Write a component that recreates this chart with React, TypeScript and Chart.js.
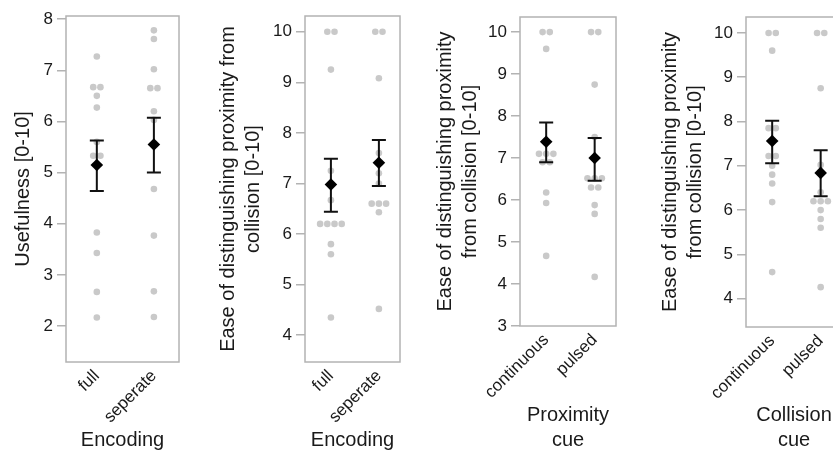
import React, { useEffect, useRef } from "react";
import { Chart, registerables } from "chart.js";

Chart.register(...registerables);

const FONT = "'Liberation Sans', Arial, Helvetica, sans-serif";
const TEXT = "#1a1a1a";
const FRAME = "#b3b3b3";
const DOT = "#c9c9c9";
const H = 455;

// ---- categories ----
const encodingCats = ["full", "seperate"];
const cueCats = ["continuous", "pulsed"];

// ---- Panel 1: Usefulness by Encoding ----
const usefulFull = [7.27, 6.67, 6.67, 6.5, 6.27, 5.6, 5.33, 5.33, 3.83, 3.43, 2.67, 2.17];
const usefulSeperate = [7.78, 7.61, 7.02, 6.65, 6.65, 6.2, 6.03, 4.68, 3.77, 2.68, 2.18];
const usefulMean = [5.15, 5.55];
const usefulLow = [4.64, 5.0];
const usefulHigh = [5.63, 6.07];
const usefulTicks = [2, 3, 4, 5, 6, 7, 8];

// ---- Panel 2: Ease of distinguishing by Encoding ----
const easeFull = [10, 10, 9.25, 7.25, 6.67, 6.2, 6.2, 6.2, 6.2, 5.8, 5.6, 4.35];
const easeSeperate = [10, 10, 9.08, 7.6, 7.2, 7.0, 6.6, 6.6, 6.6, 6.43, 4.52];
const easeMean = [6.98, 7.41];
const easeLow = [6.44, 6.95];
const easeHigh = [7.49, 7.86];
const easeTicks = [4, 5, 6, 7, 8, 9, 10];

// ---- Panel 3: by Proximity cue ----
const proxContinuous = [10, 10, 9.6, 7.1, 7.1, 7.1, 6.9, 6.9, 6.18, 5.93, 4.67];
const proxPulsed = [10, 10, 8.75, 7.5, 6.52, 6.52, 6.52, 6.3, 6.3, 5.88, 5.67, 4.17];
const proxMean = [7.39, 7.0];
const proxLow = [6.9, 6.46];
const proxHigh = [7.85, 7.48];
const proxTicks = [3, 4, 5, 6, 7, 8, 9, 10];

// ---- Panel 4: by Collision cue ----
const collContinuous = [10, 10, 9.6, 7.85, 7.85, 7.22, 7.22, 7.0, 6.8, 6.6, 6.18, 4.6];
const collPulsed = [10, 10, 8.75, 7.02, 6.4, 6.2, 6.2, 6.2, 6.0, 5.8, 5.6, 4.26];
const collMean = [7.56, 6.84];
const collLow = [7.06, 6.31];
const collHigh = [8.02, 7.35];
const collTicks = [4, 5, 6, 7, 8, 9, 10];

type Panel = {
  cats: string[];
  groups: number[][];
  mean: number[];
  low: number[];
  high: number[];
  yTicks: number[];
  yMin: number;
  yMax: number;
  yTitle: string | string[];
  xTitle: string | string[];
  canvasLeft: number;
  canvasWidth: number;
  box: { l: number; r: number; t: number; b: number };
  yTitleX: number;
};

const panels: Panel[] = [
  {
    cats: encodingCats,
    groups: [usefulFull, usefulSeperate],
    mean: usefulMean,
    low: usefulLow,
    high: usefulHigh,
    yTicks: usefulTicks,
    yMin: 1.3,
    yMax: 8.06,
    yTitle: "Usefulness [0-10]",
    xTitle: "Encoding",
    canvasLeft: 0,
    canvasWidth: 190,
    box: { l: 66, r: 179, t: 16, b: 362 },
    yTitleX: 23,
  },
  {
    cats: encodingCats,
    groups: [easeFull, easeSeperate],
    mean: easeMean,
    low: easeLow,
    high: easeHigh,
    yTicks: easeTicks,
    yMin: 3.47,
    yMax: 10.31,
    yTitle: ["Ease of distinguishing proximity from", "collision [0-10]"],
    xTitle: "Encoding",
    canvasLeft: 198,
    canvasWidth: 212,
    box: { l: 305, r: 400, t: 16, b: 362 },
    yTitleX: 228,
  },
  {
    cats: cueCats,
    groups: [proxContinuous, proxPulsed],
    mean: proxMean,
    low: proxLow,
    high: proxHigh,
    yTicks: proxTicks,
    yMin: 3,
    yMax: 10.36,
    yTitle: ["Ease of distinguishing proximity", "from collision [0-10]"],
    xTitle: ["Proximity", "cue"],
    canvasLeft: 418,
    canvasWidth: 207,
    box: { l: 520, r: 616, t: 17, b: 326 },
    yTitleX: 445,
  },
  {
    cats: cueCats,
    groups: [collContinuous, collPulsed],
    mean: collMean,
    low: collLow,
    high: collHigh,
    yTicks: collTicks,
    yMin: 3.36,
    yMax: 10.36,
    yTitle: ["Ease of distinguishing proximity", "from collision [0-10]"],
    xTitle: ["Collision", "cue"],
    canvasLeft: 640,
    canvasWidth: 210,
    box: { l: 746, r: 842, t: 17, b: 327 },
    yTitleX: 670,
  },
];

const X_MIN = -0.54;
const X_MAX = 1.44;
const DOT_SPACING = 7.2;
const TITLE_LH = 25;

function PanelChart({ p }: { p: Panel }) {
  const ref = useRef<HTMLCanvasElement>(null);
  useEffect(() => {
    const dots = p.groups.flatMap((g, i) => g.map((v) => ({ x: i, y: v })));

    const panelPlugin = {
      id: "panelDecor",
      afterDatasetsUpdate(chart: any) {
        // beeswarm: spread tied values side by side
        const meta = chart.getDatasetMeta(1);
        const data = chart.data.datasets[1].data as { x: number; y: number }[];
        const counts: Record<string, number> = {};
        data.forEach((d) => {
          const k = d.x + "|" + d.y.toFixed(2);
          counts[k] = (counts[k] || 0) + 1;
        });
        const seen: Record<string, number> = {};
        data.forEach((d, j) => {
          const k = d.x + "|" + d.y.toFixed(2);
          const r = seen[k] || 0;
          seen[k] = r + 1;
          const el = meta.data[j];
          if (el) el.x += (r - (counts[k] - 1) / 2) * DOT_SPACING;
        });
      },
      beforeDatasetsDraw(chart: any) {
        const { ctx, chartArea } = chart;
        ctx.save();
        ctx.strokeStyle = FRAME;
        ctx.lineWidth = 1.5;
        ctx.strokeRect(chartArea.left, chartArea.top, chartArea.right - chartArea.left, chartArea.bottom - chartArea.top);
        ctx.restore();
      },
      afterDatasetDraw(chart: any, args: any) {
        if (args.index !== 1) return;
        const { ctx } = chart;
        const xs = chart.scales.x;
        const ys = chart.scales.y;
        ctx.save();
        ctx.strokeStyle = "#111";
        ctx.lineWidth = 2;
        p.mean.forEach((_, i) => {
          const x = xs.getPixelForValue(i);
          const y1 = ys.getPixelForValue(p.low[i]);
          const y2 = ys.getPixelForValue(p.high[i]);
          ctx.beginPath();
          ctx.moveTo(x, y1);
          ctx.lineTo(x, y2);
          ctx.moveTo(x - 7, y1);
          ctx.lineTo(x + 7, y1);
          ctx.moveTo(x - 7, y2);
          ctx.lineTo(x + 7, y2);
          ctx.stroke();
        });
        ctx.restore();
      },
    };

    const chart = new Chart(ref.current as HTMLCanvasElement, {
      type: "scatter",
      data: {
        datasets: [
          {
            data: p.mean.map((m, i) => ({ x: i, y: m })),
            pointStyle: "rectRot",
            pointRadius: 6.3,
            backgroundColor: "#000",
            borderWidth: 0,
          },
          {
            data: dots,
            pointStyle: "circle",
            pointRadius: 3.3,
            backgroundColor: DOT,
            borderWidth: 0,
          },
        ],
      },
      options: {
        responsive: false,
        animation: false,
        events: [],
        layout: {
          padding: {
            left: 0,
            top: p.box.t,
            right: p.canvasWidth - (p.box.r - p.canvasLeft),
            bottom: 0,
          },
        },
        plugins: { legend: { display: false }, tooltip: { enabled: false } },
        scales: {
          x: {
            type: "linear",
            min: X_MIN,
            max: X_MAX,
            afterBuildTicks: (s: any) => {
              s.ticks = p.cats.map((_, i) => ({ value: i }));
            },
            afterFit: (s: any) => {
              s.height = H - p.box.b;
            },
            ticks: {
              callback: (v: any) => p.cats[v] ?? "",
              minRotation: 45,
              maxRotation: 45,
              autoSkip: false,
              padding: 4,
              color: TEXT,
              font: { family: FONT, size: 17 },
            },
            grid: { display: false, drawTicks: false },
            border: { display: false },
            title: {
              display: true,
              text: p.xTitle,
              color: TEXT,
              font: { family: FONT, size: 20, lineHeight: TITLE_LH / 20 },
              padding: { top: 0, bottom: 2 },
            },
          },
          y: {
            type: "linear",
            min: p.yMin,
            max: p.yMax,
            afterBuildTicks: (s: any) => {
              s.ticks = p.yTicks.map((v) => ({ value: v }));
            },
            afterFit: (s: any) => {
              s.width = p.box.l - p.canvasLeft;
            },
            ticks: {
              callback: (v: any) => String(v),
              padding: 4,
              color: TEXT,
              font: { family: FONT, size: 17 },
            },
            grid: {
              display: true,
              drawOnChartArea: false,
              drawTicks: true,
              tickLength: 9,
              color: FRAME,
              tickColor: FRAME,
              lineWidth: 1.5,
            },
            border: { display: false },
            title: {
              display: true,
              text: p.yTitle,
              color: TEXT,
              font: { family: FONT, size: 20, lineHeight: TITLE_LH / 20 },
              padding: { top: p.yTitleX - p.canvasLeft - TITLE_LH / 2, bottom: 0 },
            },
          },
        },
      },
      plugins: [panelPlugin],
    } as any);
    return () => chart.destroy();
  }, [p]);
  return (
    <canvas
      ref={ref}
      width={p.canvasWidth}
      height={H}
      style={{ position: "absolute", left: p.canvasLeft, top: 0, width: p.canvasWidth, height: H }}
    />
  );
}

export default function App() {
  return (
    <div
      style={{
        position: "fixed",
        left: 0,
        top: 0,
        width: 833,
        height: H,
        overflow: "hidden",
        background: "#fff",
      }}
    >
      {panels.map((p, i) => (
        <PanelChart key={i} p={p} />
      ))}
    </div>
  );
}
